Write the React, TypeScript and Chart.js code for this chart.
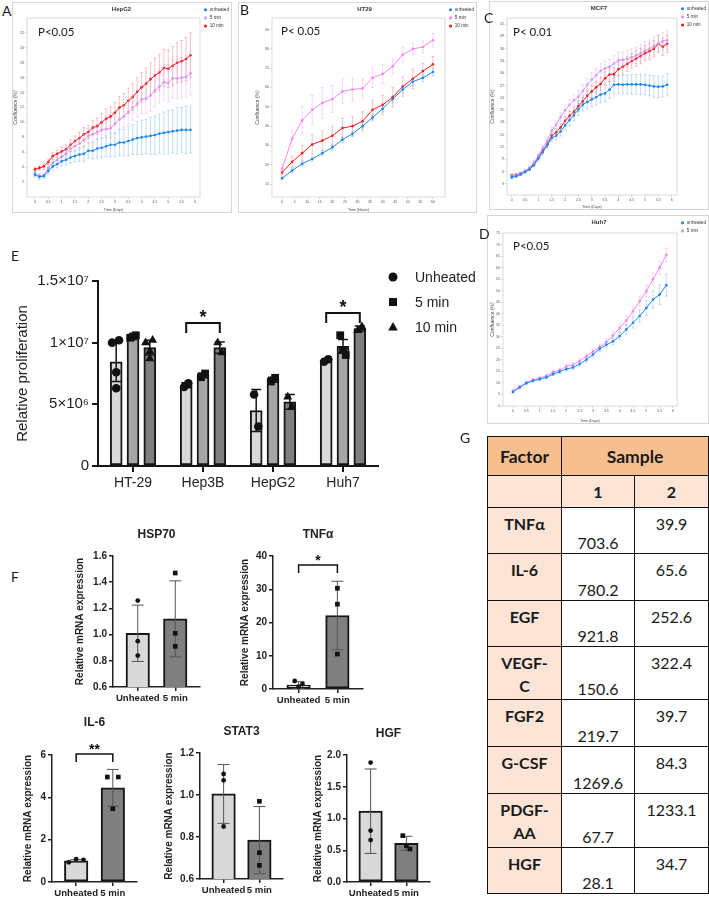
import React, { useEffect, useRef } from 'react';
import { Chart, registerables } from 'chart.js';

Chart.register(...registerables);

const SANS = '"Liberation Sans", Arial, sans-serif';
const LATO = 'Lato, "Liberation Sans", sans-serif';
Chart.defaults.font.family = SANS;
Chart.defaults.color = '#222';

// ================= A: HepG2 (time in hours, every 4 h) =================
const A_HOURS = [0, 4, 8, 12, 16, 20, 24, 28, 32, 36, 40, 44, 48, 52, 56, 60, 64, 68, 72, 76, 80, 84, 88, 92, 96, 100, 104, 108, 112, 116, 120, 124, 128, 132, 136, 140];
const A_UNHEATED = [3.0, 2.7, 2.8, 3.5, 4.1, 4.4, 4.8, 5.0, 5.3, 5.5, 5.7, 5.8, 6.2, 6.2, 6.5, 6.6, 6.8, 7.0, 7.0, 7.3, 7.3, 7.5, 7.7, 7.9, 8.0, 8.1, 8.2, 8.3, 8.5, 8.6, 8.7, 8.8, 8.9, 9.0, 9.0, 9.0];
const A_5MIN = [3.1, 2.8, 2.9, 3.9, 4.6, 5.0, 5.4, 5.8, 6.5, 6.8, 7.2, 7.6, 8.2, 8.4, 8.7, 9.0, 9.1, 9.2, 9.8, 10.4, 10.8, 11.4, 12.0, 12.5, 13.1, 13.2, 13.6, 14.3, 14.8, 15.4, 15.3, 15.9, 15.9, 16.0, 16.1, 16.6];
const A_10MIN = [3.7, 3.9, 4.1, 4.7, 5.5, 5.8, 6.1, 6.4, 7.0, 7.5, 7.9, 8.4, 8.7, 9.3, 9.5, 10.0, 10.5, 10.8, 11.3, 12.0, 12.3, 12.9, 13.4, 14.1, 14.7, 15.2, 15.8, 16.3, 16.7, 17.3, 17.2, 17.6, 18.0, 18.2, 18.5, 19.0];
const A_ERR_UNHEATED = [0.3, 0.4, 0.3, 0.4, 0.5, 0.5, 0.6, 0.7, 0.8, 0.8, 0.9, 1.0, 1.0, 1.1, 1.3, 1.3, 1.4, 1.6, 1.6, 1.8, 1.8, 2.0, 2.0, 2.2, 2.3, 2.3, 2.5, 2.6, 2.6, 2.8, 2.9, 2.9, 3.1, 3.0, 3.2, 3.1];
const A_ERR_5MIN = [0.3, 0.3, 0.3, 0.4, 0.4, 0.5, 0.5, 0.6, 0.6, 0.7, 0.8, 0.8, 0.9, 1.0, 1.0, 1.1, 1.2, 1.3, 1.3, 1.4, 1.5, 1.6, 1.7, 1.8, 1.9, 2.0, 2.1, 2.2, 2.3, 2.4, 2.5, 2.6, 2.7, 2.7, 2.8, 2.9];
const A_ERR_10MIN = [0.3, 0.3, 0.4, 0.4, 0.5, 0.5, 0.6, 0.6, 0.7, 0.7, 0.8, 0.9, 0.9, 1.0, 1.1, 1.2, 1.3, 1.3, 1.4, 1.5, 1.6, 1.7, 1.8, 1.9, 2.0, 2.1, 2.2, 2.3, 2.4, 2.5, 2.5, 2.6, 2.7, 2.8, 2.9, 3.0];
const A_Y_TICKS = [2, 4, 6, 8, 10, 12, 14, 16, 18, 20, 22];

// ================= B: HT29 (time in hours) =================
const B_HOURS = [0, 4, 8, 12, 16, 20, 24, 28, 32, 36, 40, 44, 48, 52, 56, 60];
const B_UNHEATED = [13, 17, 20.5, 23, 26, 29, 33, 36, 40, 44.5, 49, 54, 59, 63, 65, 68];
const B_5MIN = [18, 33.5, 43, 48.5, 52, 54, 58, 59, 59.5, 65, 67, 71, 77, 80, 81, 84.5];
const B_10MIN = [16, 21.5, 26, 30.5, 32.5, 35, 39, 40, 42.5, 48.5, 51, 55, 60.5, 64.5, 68.5, 72];
const B_ERR_UNHEATED = [0.8, 1.0, 1.0, 1.2, 1.3, 1.4, 1.5, 1.5, 1.6, 1.7, 1.7, 1.8, 1.8, 1.9, 2.0, 2.0];
const B_ERR_5MIN = [2.0, 4.5, 7.0, 7.5, 8.0, 7.0, 6.5, 6.0, 5.0, 5.0, 5.0, 4.0, 4.0, 3.0, 3.0, 3.5];
const B_ERR_10MIN = [1.0, 3.0, 4.0, 5.0, 5.0, 5.0, 5.0, 5.0, 5.0, 5.0, 5.0, 5.0, 5.0, 5.0, 4.0, 4.0];
const B_X_TICKS = [0, 5, 10, 15, 20, 25, 30, 35, 40, 45, 50, 55, 60];
const B_Y_TICKS = [10, 20, 30, 40, 50, 60, 70, 80, 90];

// ================= C: MCF7 (time in hours, every 4 h) =================
const C_HOURS = A_HOURS;
const C_UNHEATED = [4.6, 4.9, 5.3, 5.9, 6.6, 7.6, 9.2, 10.8, 12.5, 14.2, 14.8, 15.8, 17.3, 18.6, 19.8, 21.2, 22.4, 23.0, 23.6, 24.2, 24.8, 25.1, 26.0, 27.2, 27.3, 27.2, 27.3, 27.3, 27.3, 27.3, 27.2, 27.0, 26.8, 26.7, 26.8, 27.2];
const C_5MIN = [4.9, 5.1, 5.6, 6.2, 7.0, 8.2, 9.9, 11.8, 13.6, 16.0, 17.5, 19.3, 21.0, 22.3, 23.4, 24.3, 25.7, 27.2, 28.5, 29.5, 30.6, 31.2, 31.6, 32.4, 33.2, 33.3, 33.5, 33.9, 34.4, 34.9, 35.5, 36.0, 36.7, 37.3, 37.8, 38.1];
const C_10MIN = [5.1, 5.2, 5.6, 6.1, 6.7, 7.9, 9.6, 11.2, 12.7, 14.8, 15.6, 16.8, 18.4, 19.6, 20.6, 22.0, 23.2, 24.5, 25.6, 26.6, 27.4, 28.8, 29.7, 29.8, 31.0, 31.6, 32.3, 33.0, 33.6, 34.2, 34.9, 35.4, 36.0, 37.2, 36.5, 37.2];
const C_ERR_UNHEATED = [0.3, 0.3, 0.3, 0.4, 0.4, 0.5, 0.6, 0.7, 0.8, 0.9, 1.0, 1.1, 1.2, 1.3, 1.4, 1.5, 1.6, 1.7, 1.8, 1.9, 2.0, 2.0, 2.1, 2.2, 2.2, 2.3, 2.3, 2.4, 2.4, 2.5, 2.5, 2.5, 2.6, 2.6, 2.6, 2.7];
const C_ERR_5MIN = [0.3, 0.3, 0.3, 0.4, 0.4, 0.5, 0.6, 0.7, 0.8, 0.9, 1.0, 1.1, 1.2, 1.3, 1.4, 1.5, 1.6, 1.6, 1.7, 1.7, 1.8, 1.8, 1.8, 1.9, 1.9, 1.9, 2.0, 2.0, 2.0, 2.1, 2.1, 2.1, 2.2, 2.2, 2.2, 2.3];
const C_ERR_10MIN = [0.3, 0.3, 0.3, 0.3, 0.4, 0.5, 0.5, 0.6, 0.7, 0.8, 0.9, 1.0, 1.0, 1.1, 1.2, 1.3, 1.3, 1.4, 1.5, 1.5, 1.6, 1.6, 1.7, 1.7, 1.7, 1.8, 1.8, 1.8, 1.9, 1.9, 1.9, 2.0, 2.0, 2.0, 2.1, 2.1];
const C_Y_TICKS = [3, 6, 9, 12, 15, 18, 21, 24, 27, 30, 33, 36, 39, 42];

// ================= D: Huh7 (time in hours, every 6 h) =================
const D_HOURS = [0, 6, 12, 18, 24, 30, 36, 42, 48, 54, 60, 66, 72, 78, 84, 90, 96, 102, 108, 114, 120, 126, 132, 138];
const D_UNHEATED = [6.1, 8.0, 9.9, 10.9, 11.6, 12.4, 13.8, 14.9, 16.0, 16.7, 18.2, 20.1, 22.3, 24.8, 26.5, 28.0, 30.3, 33.2, 36.1, 39.0, 42.5, 46.2, 48.3, 52.4];
const D_5MIN = [6.6, 8.4, 10.2, 11.4, 12.1, 13.1, 14.6, 15.6, 17.2, 17.9, 19.5, 21.6, 23.6, 25.5, 27.7, 30.6, 33.8, 37.1, 41.1, 45.4, 49.8, 55.0, 60.0, 65.5];
const D_ERR_UNHEATED = [0.5, 0.5, 0.5, 0.6, 0.6, 0.7, 0.7, 0.8, 0.8, 0.9, 1.0, 1.1, 1.2, 1.3, 1.4, 1.5, 1.7, 2.0, 2.3, 2.7, 3.2, 3.8, 4.3, 4.8];
const D_ERR_5MIN = [0.5, 0.5, 0.6, 0.6, 0.7, 0.7, 0.8, 0.9, 0.9, 1.0, 1.1, 1.2, 1.3, 1.4, 1.5, 1.6, 1.7, 1.9, 2.1, 2.3, 2.5, 2.7, 2.9, 3.0];
const D_Y_TICKS = [0, 5, 10, 15, 20, 25, 30, 35, 40, 45, 50, 55, 60, 65, 70, 75];

const DAY_TICKS = [0, 0.5, 1, 1.5, 2, 2.5, 3, 3.5, 4, 4.5, 5, 5.5, 6];
const LINE_SERIES = ['unheated', '5 min', '10 min'];

// ================= E: relative proliferation =================
const E_CATEGORIES = ['HT-29', 'Hep3B', 'HepG2', 'Huh7'];
const E_SERIES = ['Unheated', '5 min', '10 min'];
const E_UNHEATED = [8.45e6, 6.55e6, 4.5e6, 8.55e6];
const E_5MIN = [1.05e7, 7.35e6, 7.0e6, 9.7e6];
const E_10MIN = [9.6e6, 9.6e6, 5.2e6, 1.115e7];
const E_ERR_UNHEATED = [1.6e6, 2.0e5, 1.7e6, 1.0e5];
const E_ERR_5MIN = [1.0e5, 2.0e5, 2.0e5, 5.5e5];
const E_ERR_10MIN = [6.0e5, 4.5e5, 6.0e5, 2.0e5];
const E_PTS_UNHEATED = [[1.0e7, 1.02e7, 7.6e6, 6.3e6], [6.4e6, 6.7e6], [5.8e6, 3.2e6], [8.45e6, 8.65e6]];
const E_PTS_5MIN = [[1.04e7, 1.06e7, 1.05e7], [7.2e6, 7.5e6], [6.85e6, 7.15e6], [1.06e7, 9.0e6, 9.4e6]];
const E_PTS_10MIN = [[1.0e7, 1.02e7, 9.3e6, 8.7e6], [1.0e7, 9.2e6], [5.6e6, 4.8e6], [1.1e7, 1.13e7]];
const E_Y_TICKS = [0, 5e6, 1e7, 1.5e7];
const E_Y_LABELS = ['0', '5×10⁶', '1×10⁷', '1.5×10⁷'];
const E_BRACKET_CATS = [1, 3];
const E_BRACKET_Y = [1.16e7, 1.24e7];
const E_BRACKET_TEXT = ['*', '*'];

// ================= F: relative mRNA expression =================
const F_CATS = ['Unheated', '5 min'];
const F_HSP70_MEAN = [1.01, 1.12];
const F_HSP70_SD = [0.215, 0.29];
const F_HSP70_PTS = [[1.26, 0.95, 0.84], [1.47, 1.01, 0.91]];
const F_HSP70_TICKS = [0.6, 0.8, 1.0, 1.2, 1.4, 1.6];
const F_HSP70_LABELS = ['0.6', '0.8', '1.0', '1.2', '1.4', '1.6'];

const F_TNF_MEAN = [1.2, 22.1];
const F_TNF_SD = [1.0, 10.3];
const F_TNF_PTS = [[2.4, 0.7, 1.5], [30.3, 25.5, 10.5]];
const F_TNF_TICKS = [0, 10, 20, 30, 40];
const F_TNF_LABELS = ['0', '10', '20', '30', '40'];

const F_IL6_MEAN = [1.0, 4.45];
const F_IL6_SD = [0.06, 0.87];
const F_IL6_PTS = [[0.93, 1.08, 1.05], [4.96, 3.46, 4.96]];
const F_IL6_TICKS = [0, 2, 4, 6];
const F_IL6_LABELS = ['0', '2', '4', '6'];

const F_STAT3_MEAN = [1.005, 0.785];
const F_STAT3_SD = [0.14, 0.16];
const F_STAT3_PTS = [[1.10, 1.07, 0.85], [0.97, 0.725, 0.665]];
const F_STAT3_TICKS = [0.6, 0.8, 1.0, 1.2];
const F_STAT3_LABELS = ['0.6', '0.8', '1.0', '1.2'];

const F_HGF_MEAN = [1.115, 0.61];
const F_HGF_SD = [0.665, 0.11];
const F_HGF_PTS = [[1.88, 0.81, 0.66], [0.73, 0.57, 0.52]];
const F_HGF_TICKS = [0, 0.5, 1.0, 1.5, 2.0];
const F_HGF_LABELS = ['0.0', '0.5', '1.0', '1.5', '2.0'];

// ================= G: table =================
const G_FACTORS = ['TNFα', 'IL-6', 'EGF', 'VEGF-\nC', 'FGF2', 'G-CSF', 'PDGF-\nAA', 'HGF'];
const G_SAMPLES = ['1', '2'];
const G_SAMPLE1 = ['703.6', '780.2', '921.8', '150.6', '219.7', '1269.6', '67.7', '28.1'];
const G_SAMPLE2 = ['39.9', '65.6', '252.6', '322.4', '39.7', '84.3', '1233.1', '34.7'];

// ================= plugins =================
function drawErrors(chart: any, di: number, layer: string) {
  const ds = chart.data.datasets[di];
  if (!ds || !ds.errors || (ds.errLayer || 'after') !== layer) return;
  const meta = chart.getDatasetMeta(di);
  if (meta.hidden) return;
  const ys = chart.scales[meta.yAxisID];
  const ctx = chart.ctx;
  ctx.save();
  ctx.strokeStyle = ds.errColor;
  ctx.lineWidth = ds.errWidth;
  const cw = ds.errCap;
  meta.data.forEach((el: any, i: number) => {
    const raw = ds.data[i];
    const v = typeof raw === 'number' ? raw : raw.y;
    const e = ds.errors[i];
    if (e == null) return;
    const x = el.x;
    const yt = ys.getPixelForValue(v + e);
    const yb = ys.getPixelForValue(v - e);
    ctx.beginPath();
    ctx.moveTo(x, yt); ctx.lineTo(x, yb);
    ctx.moveTo(x - cw, yt); ctx.lineTo(x + cw, yt);
    ctx.moveTo(x - cw, yb); ctx.lineTo(x + cw, yb);
    ctx.stroke();
  });
  ctx.restore();
}

const errorBarPlugin = {
  id: 'errorBars',
  beforeDatasetDraw(chart: any, args: any) { drawErrors(chart, args.index, 'before'); },
  afterDatasetDraw(chart: any, args: any) { drawErrors(chart, args.index, 'after'); },
};
Chart.register(errorBarPlugin);

const plotFrame = {
  id: 'plotFrame',
  beforeDatasetsDraw(chart: any) {
    const { left, top, right, bottom } = chart.chartArea;
    const ctx = chart.ctx;
    ctx.save();
    ctx.strokeStyle = '#d2d2d2';
    ctx.lineWidth = 0.8;
    ctx.strokeRect(left, top, right - left, bottom - top);
    ctx.restore();
  },
};

function cornerText(text: string, dx: number, dy: number) {
  return {
    id: 'cornerText',
    afterDraw(chart: any) {
      const { left, top } = chart.chartArea;
      const ctx = chart.ctx;
      ctx.save();
      ctx.font = `11.5px ${LATO}`;
      ctx.fillStyle = '#1a1a1a';
      ctx.textAlign = 'left';
      ctx.textBaseline = 'middle';
      ctx.fillText(text, left + dx, top + dy);
      ctx.restore();
    },
  };
}

function fixLegendWidth(w: number) {
  return {
    id: 'fixLegendWidth',
    beforeUpdate(chart: any) {
      const lg = chart.legend;
      if (lg && !lg.__fixed) {
        const orig = lg.fit.bind(lg);
        lg.fit = () => { orig(); lg.width = w; };
        lg.__fixed = true;
      }
    },
  };
}

type Bracket = { a: [number, number]; b: [number, number]; y: number; drop: number; text: string; size: number; lw: number };
function bracketPlugin(brs: Bracket[]) {
  return {
    id: 'brackets',
    afterDraw(chart: any) {
      const ctx = chart.ctx;
      const ys = chart.scales.y;
      brs.forEach((br) => {
        const xa = chart.getDatasetMeta(br.a[0]).data[br.a[1]].x;
        const xb = chart.getDatasetMeta(br.b[0]).data[br.b[1]].x;
        const y = ys.getPixelForValue(br.y);
        ctx.save();
        ctx.strokeStyle = '#111';
        ctx.lineWidth = br.lw;
        ctx.beginPath();
        ctx.moveTo(xa, y + br.drop); ctx.lineTo(xa, y); ctx.lineTo(xb, y); ctx.lineTo(xb, y + br.drop);
        ctx.stroke();
        ctx.fillStyle = '#111';
        ctx.font = `bold ${br.size}px ${SANS}`;
        ctx.textAlign = 'center';
        ctx.textBaseline = 'alphabetic';
        ctx.fillText(br.text, (xa + xb) / 2, y);
        ctx.restore();
      });
    },
  };
}

const eLegend = {
  id: 'eLegend',
  afterDraw(chart: any) {
    const { right, top } = chart.chartArea;
    const ctx = chart.ctx;
    ctx.save();
    ctx.font = `14px ${SANS}`;
    ctx.textBaseline = 'middle';
    ctx.textAlign = 'left';
    E_SERIES.forEach((name, k) => {
      const cx = right + 15;
      const cy = top - 4 + k * 25;
      ctx.fillStyle = '#111';
      ctx.beginPath();
      if (k === 0) ctx.arc(cx, cy, 4.5, 0, Math.PI * 2);
      else if (k === 1) ctx.rect(cx - 4, cy - 4, 8, 8);
      else { ctx.moveTo(cx, cy - 5); ctx.lineTo(cx + 4.8, cy + 3.5); ctx.lineTo(cx - 4.8, cy + 3.5); ctx.closePath(); }
      ctx.fill();
      ctx.fillStyle = '#222';
      ctx.fillText(name, right + 37, cy + 1);
    });
    ctx.restore();
  },
};

// ================= generic canvas =================
function ChartBox({ left, top, width, height, make }: { left: number; top: number; width: number; height: number; make: () => any }) {
  const ref = useRef<HTMLCanvasElement | null>(null);
  useEffect(() => {
    if (!ref.current) return;
    const chart = new Chart(ref.current, make());
    return () => chart.destroy();
  }, []);
  return <canvas ref={ref} width={width} height={height} style={{ position: 'absolute', left, top, width, height }} />;
}

// ================= line charts (A-D) =================
type LSeries = { label: string; values: number[]; errors: number[]; color: string; errColor: string };
type LSpec = {
  title: string; pText: string; pDx: number; pDy: number;
  xs: number[]; series: LSeries[];
  xMin: number; xMax: number; xTicks: number[]; xTitle: string;
  yMin: number; yMax: number; yTicks: number[];
  pad: { left: number; right: number; top: number; bottom: number };
  yAxisW: number; xAxisH: number; legendW: number; titlePad: { top: number; bottom: number }; yTitlePad: number;
};

function makeLineConfig(p: LSpec) {
  return {
    type: 'line',
    data: {
      datasets: p.series.map((s) => ({
        label: s.label,
        data: p.xs.map((x, i) => ({ x, y: s.values[i] })),
        borderColor: s.color,
        backgroundColor: s.color,
        borderWidth: 1,
        pointRadius: 1.3,
        pointBorderWidth: 0,
        pointStyle: 'circle',
        errors: s.errors,
        errColor: s.errColor,
        errWidth: 0.7,
        errCap: 1.4,
        errLayer: 'before',
      })),
    },
    options: {
      responsive: false,
      animation: false,
      events: [],
      layout: { padding: p.pad },
      scales: {
        x: {
          type: 'linear', min: p.xMin, max: p.xMax,
          afterBuildTicks: (s: any) => { s.ticks = p.xTicks.map((v) => ({ value: v })); },
          afterFit: (s: any) => { s.height = p.xAxisH; },
          ticks: { font: { size: 3.5 }, color: '#555', padding: 1, maxRotation: 0, autoSkip: false, callback: (v: any) => String(v) },
          grid: { drawOnChartArea: false, tickLength: 2, color: '#bbb', lineWidth: 0.6 },
          border: { display: false },
          title: { display: true, text: p.xTitle, font: { size: 3.6 }, color: '#444', padding: { top: 1, bottom: 0 } },
        },
        y: {
          min: p.yMin, max: p.yMax,
          afterBuildTicks: (s: any) => { s.ticks = p.yTicks.map((v) => ({ value: v })); },
          afterFit: (s: any) => { s.width = p.yAxisW; },
          ticks: { font: { size: 3.5 }, color: '#555', padding: 1, autoSkip: false, callback: (v: any) => String(v) },
          grid: { drawOnChartArea: false, tickLength: 2, color: '#bbb', lineWidth: 0.6 },
          border: { display: false },
          title: { display: true, text: 'Confluence (%)', font: { size: 5 }, color: '#444', padding: { top: p.yTitlePad, bottom: 0 } },
        },
      },
      plugins: {
        title: { display: true, text: p.title, font: { size: 6, weight: 'bold' }, color: '#333', padding: p.titlePad },
        legend: {
          position: 'right', align: 'start',
          labels: { font: { size: 4.6 }, color: '#333', usePointStyle: true, pointStyle: 'circle', boxWidth: 4, boxHeight: 2.2, padding: 3.5 },
        },
        tooltip: { enabled: false },
      },
    },
    plugins: [plotFrame, cornerText(p.pText, p.pDx, p.pDy), fixLegendWidth(p.legendW)],
  };
}

const BLUE = '#1f86ee';
const BLUE_E = 'rgba(60,150,240,0.45)';
const RED = '#f01c1c';
const RED_E = 'rgba(240,70,70,0.45)';
const LAV = '#d898f0';
const LAV_E = 'rgba(216,152,240,0.5)';
const MAG = '#f486f4';
const MAG_E = 'rgba(244,134,244,0.5)';

const toDays = (h: number[]) => h.map((v) => v / 24);

function LinePanel({ left, top, width, height, spec }: { left: number; top: number; width: number; height: number; spec: LSpec }) {
  return (
    <>
      <div style={{ position: 'absolute', left, top, width, height, border: '1px solid #d6d6d6', boxSizing: 'border-box' }} />
      <ChartBox left={left} top={top} width={width} height={height} make={() => makeLineConfig(spec)} />
    </>
  );
}

// ================= F charts =================
type FSpec = {
  title: string; means: number[]; sd: number[]; pts: number[][]; ticks: number[]; labels: string[];
  yMin: number; yMax: number; spread: number[]; brackets: { y: number; text: string }[];
  plotL: number; plotR: number; plotT: number; plotB: number; titleY: number; yTitleX: number;
};

function fGeom(s: FSpec) {
  const cL = s.yTitleX - 16;
  const cT = s.titleY - 12;
  const cR = s.plotR + 10;
  const cB = s.plotB + 25;
  return { left: cL, top: cT, width: cR - cL, height: cB - cT };
}

function makeFConfig(s: FSpec) {
  const g = fGeom(s);
  const J = [-1, 0, 1];
  return {
    type: 'bar',
    data: {
      datasets: [
        {
          type: 'bar', label: 'mean', grouped: false,
          data: s.means.map((m, i) => ({ x: i, y: m })),
          backgroundColor: ['#d9d9d9', '#7f7f7f'],
          borderColor: '#161616', borderWidth: 2, borderSkipped: false, barThickness: 23.5,
          errors: s.sd, errColor: '#555', errWidth: 1, errCap: 6, errLayer: 'after',
        },
        ...s.pts.map((arr, c) => ({
          type: 'scatter', label: F_CATS[c],
          data: arr.map((v, k) => ({ x: c + J[k] * s.spread[c], y: v })),
          pointStyle: c === 0 ? 'circle' : 'rect',
          pointRadius: c === 0 ? 2.4 : 3.3,
          backgroundColor: '#111', borderColor: '#111', borderWidth: 0, order: -1,
        })),
      ],
    },
    options: {
      responsive: false,
      animation: false,
      events: [],
      layout: { padding: { left: 6, right: 10, top: 0, bottom: 0 } },
      scales: {
        x: {
          type: 'linear', min: -0.66, max: 1.66, offset: false,
          afterBuildTicks: (sc: any) => { sc.ticks = [0, 1].map((v) => ({ value: v })); },
          afterFit: (sc: any) => { sc.height = 25; },
          ticks: { callback: (v: any) => F_CATS[v] ?? '', font: { size: 9.6, weight: 'bold' }, color: '#222', padding: 2, autoSkip: false, maxRotation: 0 },
          grid: { offset: false, drawOnChartArea: false, tickLength: 4, color: '#222', lineWidth: 1.5 },
          border: { color: '#222', width: 1.5 },
        },
        y: {
          min: s.yMin, max: s.yMax, beginAtZero: false,
          afterBuildTicks: (sc: any) => { sc.ticks = s.ticks.map((v) => ({ value: v })); },
          afterFit: (sc: any) => { sc.width = s.plotL - g.left - 6; },
          ticks: { callback: (v: any) => s.labels[s.ticks.indexOf(v)] ?? '', font: { size: 10, weight: 'bold' }, color: '#222', padding: 2, autoSkip: false },
          grid: { drawOnChartArea: false, tickLength: 4, color: '#222', lineWidth: 1.5 },
          border: { color: '#222', width: 1.5 },
          title: { display: true, text: 'Relative mRNA expression', font: { size: 10, weight: 'bold' }, color: '#222', padding: { top: 4, bottom: 0 } },
        },
      },
      plugins: {
        title: { display: true, fullSize: false, text: s.title, font: { size: 12, weight: 'bold' }, color: '#222', padding: { top: 4.8, bottom: s.plotT - g.top - 19.2 } },
        legend: { display: false },
        tooltip: { enabled: false },
      },
    },
    plugins: [bracketPlugin(s.brackets.map((b) => ({ a: [0, 0] as [number, number], b: [0, 1] as [number, number], y: b.y, drop: 8, text: b.text, size: 14, lw: 1.5 })))],
  };
}

const F_SPECS: FSpec[] = [
  { title: 'HSP70', means: F_HSP70_MEAN, sd: F_HSP70_SD, pts: F_HSP70_PTS, ticks: F_HSP70_TICKS, labels: F_HSP70_LABELS, yMin: 0.6, yMax: 1.6, spread: [0, 0], brackets: [], plotL: 113, plotR: 200, plotT: 556, plotB: 687, titleY: 535, yTitleX: 80 },
  { title: 'TNFα', means: F_TNF_MEAN, sd: F_TNF_SD, pts: F_TNF_PTS, ticks: F_TNF_TICKS, labels: F_TNF_LABELS, yMin: 0, yMax: 40, spread: [0.1, 0], brackets: [{ y: 37.3, text: '*' }], plotL: 273, plotR: 363, plotT: 556, plotB: 689, titleY: 535, yTitleX: 245 },
  { title: 'IL-6', means: F_IL6_MEAN, sd: F_IL6_SD, pts: F_IL6_PTS, ticks: F_IL6_TICKS, labels: F_IL6_LABELS, yMin: 0, yMax: 6, spread: [0.2, 0.15], brackets: [{ y: 6.05, text: '**' }], plotL: 52, plotR: 137, plotT: 755, plotB: 882, titleY: 723, yTitleX: 28 },
  { title: 'STAT3', means: F_STAT3_MEAN, sd: F_STAT3_SD, pts: F_STAT3_PTS, ticks: F_STAT3_TICKS, labels: F_STAT3_LABELS, yMin: 0.6, yMax: 1.2, spread: [0, 0], brackets: [], plotL: 200, plotR: 283, plotT: 753, plotB: 879, titleY: 732, yTitleX: 169 },
  { title: 'HGF', means: F_HGF_MEAN, sd: F_HGF_SD, pts: F_HGF_PTS, ticks: F_HGF_TICKS, labels: F_HGF_LABELS, yMin: 0, yMax: 2, spread: [0, 0.1], brackets: [], plotL: 347, plotR: 430, plotT: 755, plotB: 882, titleY: 734, yTitleX: 318 },
];

// ================= E chart =================
function makeEConfig() {
  const SLOT = 0.24;
  const jit = (k: number, n: number) => (n >= 4 ? [-0.06, 0.04, 0, 0] : n === 3 ? [-0.04, 0.04, 0] : [-0.03, 0.03])[k] ?? 0;
  const bar = (label: string, values: number[], errs: number[], slot: number, color: string) => ({
    type: 'bar', label, grouped: false,
    data: values.map((v, i) => ({ x: i + (slot - 1) * SLOT, y: v })),
    backgroundColor: color, borderColor: '#161616', borderWidth: 2, borderSkipped: false, barThickness: 12,
    errors: errs, errColor: '#161616', errWidth: 1.5, errCap: 5, errLayer: 'after',
  });
  const dots = (label: string, pts: number[][], slot: number, style: string, r: number) => ({
    type: 'scatter', label,
    data: pts.flatMap((arr, i) => arr.map((v, k) => ({ x: i + (slot - 1) * SLOT + jit(k, arr.length), y: v }))),
    pointStyle: style, pointRadius: r, backgroundColor: '#111', borderColor: '#111', borderWidth: 0, order: -1,
  });
  return {
    type: 'bar',
    data: {
      datasets: [
        bar(E_SERIES[0], E_UNHEATED, E_ERR_UNHEATED, 0, '#d9d9d9'),
        bar(E_SERIES[1], E_5MIN, E_ERR_5MIN, 1, '#a6a6a6'),
        bar(E_SERIES[2], E_10MIN, E_ERR_10MIN, 2, '#7f7f7f'),
        dots(E_SERIES[0], E_PTS_UNHEATED, 0, 'circle', 4.3),
        dots(E_SERIES[1], E_PTS_5MIN, 1, 'rect', 5.5),
        dots(E_SERIES[2], E_PTS_10MIN, 2, 'triangle', 5.2),
      ],
    },
    options: {
      responsive: false,
      animation: false,
      events: [],
      layout: { padding: { left: 10, right: 102, top: 31, bottom: 0 } },
      scales: {
        x: {
          type: 'linear', min: -0.5, max: 3.5, offset: false,
          afterBuildTicks: (s: any) => { s.ticks = E_CATEGORIES.map((_, i) => ({ value: i })); },
          afterFit: (s: any) => { s.height = 34; },
          ticks: { callback: (v: any) => E_CATEGORIES[v] ?? '', font: { size: 14 }, color: '#222', padding: 3, maxRotation: 0, autoSkip: false },
          grid: { offset: false, drawOnChartArea: false, tickLength: 6, color: '#161616', lineWidth: 2 },
          border: { color: '#161616', width: 2 },
        },
        y: {
          min: 0, max: 1.5e7, beginAtZero: true,
          afterBuildTicks: (s: any) => { s.ticks = E_Y_TICKS.map((v) => ({ value: v })); },
          afterFit: (s: any) => { s.width = 88; },
          ticks: { callback: (v: any) => E_Y_LABELS[E_Y_TICKS.indexOf(v)] ?? '', font: { size: 15 }, color: '#222', padding: 3, autoSkip: false },
          grid: { drawOnChartArea: false, tickLength: 6, color: '#161616', lineWidth: 2 },
          border: { color: '#161616', width: 2 },
          title: { display: true, text: 'Relative proliferation', font: { size: 15 }, color: '#222', padding: { top: 4, bottom: 0 } },
        },
      },
      plugins: { legend: { display: false }, tooltip: { enabled: false } },
    },
    plugins: [
      eLegend,
      bracketPlugin(E_BRACKET_CATS.map((c, i) => ({ a: [0, c] as [number, number], b: [2, c] as [number, number], y: E_BRACKET_Y[i], drop: 10, text: E_BRACKET_TEXT[i], size: 18, lw: 2 }))),
    ],
  };
}

// ================= table =================
function FactorTable() {
  const rowH = [46, 47, 46, 53, 47, 47, 54, 46];
  const bd = '1.5px solid #111';
  const head = '#f7bf8f';
  const light = '#fce4d6';
  const cell: React.CSSProperties = { border: bd, padding: 0, textAlign: 'center' };
  return (
    <table style={{ position: 'absolute', left: 487, top: 436, width: 221, borderCollapse: 'collapse', tableLayout: 'fixed', fontFamily: LATO, color: '#1a1a1a' }}>
      <colgroup>
        <col style={{ width: 74 }} />
        <col style={{ width: 73 }} />
        <col style={{ width: 74 }} />
      </colgroup>
      <tbody>
        <tr style={{ height: 39 }}>
          <td style={{ ...cell, background: head, fontWeight: 700, fontSize: 17.5 }}>Factor</td>
          <td colSpan={2} style={{ ...cell, background: head, fontWeight: 700, fontSize: 17.5 }}>Sample</td>
        </tr>
        <tr style={{ height: 32 }}>
          <td style={{ ...cell, background: light }} />
          {G_SAMPLES.map((s) => (
            <td key={s} style={{ ...cell, background: light, fontWeight: 700, fontSize: 16 }}>{s}</td>
          ))}
        </tr>
        {G_FACTORS.map((f, i) => (
          <tr key={f} style={{ height: rowH[i] }}>
            <td style={{ ...cell, background: light, fontWeight: 700, fontSize: 16, verticalAlign: 'top', paddingTop: 4, lineHeight: '23px', whiteSpace: 'pre-line' }}>{f}</td>
            <td style={{ ...cell, background: '#fff', fontSize: 16, verticalAlign: 'bottom', lineHeight: '20px' }}>{G_SAMPLE1[i]}</td>
            <td style={{ ...cell, background: '#fff', fontSize: 16, verticalAlign: 'top', paddingTop: 4, lineHeight: '23px' }}>{G_SAMPLE2[i]}</td>
          </tr>
        ))}
      </tbody>
    </table>
  );
}

// ================= specs for A-D =================
const SPEC_A: LSpec = {
  title: 'HepG2', pText: 'P<0.05', pDx: 11, pDy: 14, xs: toDays(A_HOURS),
  series: [
    { label: LINE_SERIES[0], values: A_UNHEATED, errors: A_ERR_UNHEATED, color: BLUE, errColor: BLUE_E },
    { label: LINE_SERIES[1], values: A_5MIN, errors: A_ERR_5MIN, color: LAV, errColor: LAV_E },
    { label: LINE_SERIES[2], values: A_10MIN, errors: A_ERR_10MIN, color: RED, errColor: RED_E },
  ],
  xMin: -0.3, xMax: 6.19, xTicks: DAY_TICKS, xTitle: 'Time (Days)', yMin: 0, yMax: 24, yTicks: A_Y_TICKS,
  pad: { left: 0, right: 1, top: 2, bottom: 1 }, yAxisW: 15, xAxisH: 15, legendW: 31, titlePad: { top: 2, bottom: 4.8 }, yTitlePad: 1,
};
const SPEC_B: LSpec = {
  title: 'HT29', pText: 'P< 0.05', pDx: 9, pDy: 13.5, xs: B_HOURS,
  series: [
    { label: LINE_SERIES[0], values: B_UNHEATED, errors: B_ERR_UNHEATED, color: BLUE, errColor: BLUE_E },
    { label: LINE_SERIES[1], values: B_5MIN, errors: B_ERR_5MIN, color: MAG, errColor: MAG_E },
    { label: LINE_SERIES[2], values: B_10MIN, errors: B_ERR_10MIN, color: RED, errColor: RED_E },
  ],
  xMin: -4, xMax: 64.8, xTicks: B_X_TICKS, xTitle: 'Time (Hours)', yMin: 3.3, yMax: 96, yTicks: B_Y_TICKS,
  pad: { left: 15, right: 1, top: 2, bottom: 1 }, yAxisW: 19, xAxisH: 15, legendW: 31, titlePad: { top: 2, bottom: 4.8 }, yTitlePad: 2,
};
const SPEC_C: LSpec = {
  title: 'MCF7', pText: 'P< 0.01', pDx: 6, pDy: 14.5, xs: toDays(C_HOURS),
  series: [
    { label: LINE_SERIES[0], values: C_UNHEATED, errors: C_ERR_UNHEATED, color: BLUE, errColor: BLUE_E },
    { label: LINE_SERIES[1], values: C_5MIN, errors: C_ERR_5MIN, color: LAV, errColor: LAV_E },
    { label: LINE_SERIES[2], values: C_10MIN, errors: C_ERR_10MIN, color: RED, errColor: RED_E },
  ],
  xMin: -0.18, xMax: 6.2, xTicks: DAY_TICKS, xTitle: 'Time (Days)', yMin: 0.3, yMax: 43.5, yTicks: C_Y_TICKS,
  pad: { left: 0, right: 0, top: 2, bottom: 1 }, yAxisW: 18, xAxisH: 14, legendW: 32, titlePad: { top: 2, bottom: 5.8 }, yTitlePad: 1,
};
const SPEC_D: LSpec = {
  title: 'Huh7', pText: 'P<0.05', pDx: 10, pDy: 13, xs: toDays(D_HOURS),
  series: [
    { label: LINE_SERIES[0], values: D_UNHEATED, errors: D_ERR_UNHEATED, color: BLUE, errColor: BLUE_E },
    { label: LINE_SERIES[1], values: D_5MIN, errors: D_ERR_5MIN, color: MAG, errColor: MAG_E },
  ],
  xMin: -0.375, xMax: 6.15, xTicks: DAY_TICKS, xTitle: 'Time (Days)', yMin: 0, yMax: 75, yTicks: D_Y_TICKS,
  pad: { left: 2, right: 0, top: 2, bottom: 1 }, yAxisW: 14, xAxisH: 17, legendW: 32, titlePad: { top: 2, bottom: 6.8 }, yTitlePad: 1,
};

function Letter({ ch, left, top, size = 14 }: { ch: string; left: number; top: number; size?: number }) {
  return <div style={{ position: 'absolute', left, top, fontFamily: LATO, fontSize: size, lineHeight: `${size}px`, color: '#1a1a1a' }}>{ch}</div>;
}

export default function App() {
  return (
    <div style={{ position: 'absolute', left: 0, top: 0, width: 709, height: 898, overflow: 'hidden', background: '#fff' }}>
      <LinePanel left={12} top={2} width={220} height={211} spec={SPEC_A} />
      <LinePanel left={238} top={2} width={239} height={211} spec={SPEC_B} />
      <LinePanel left={489} top={1} width={220} height={209} spec={SPEC_C} />
      <LinePanel left={487} top={215} width={222} height={209} spec={SPEC_D} />
      <ChartBox left={0} top={250} width={480} height={250} make={makeEConfig} />
      {F_SPECS.map((s) => {
        const g = fGeom(s);
        return <ChartBox key={s.title} left={g.left} top={g.top} width={g.width} height={g.height} make={() => makeFConfig(s)} />;
      })}
      <FactorTable />
      <Letter ch="A" left={2} top={4} />
      <Letter ch="B" left={240} top={3} />
      <Letter ch="C" left={484} top={11} />
      <Letter ch="D" left={479} top={227} />
      <Letter ch="E" left={11} top={249} />
      <Letter ch="F" left={11} top={570} />
      <Letter ch="G" left={460} top={431} />
    </div>
  );
}
